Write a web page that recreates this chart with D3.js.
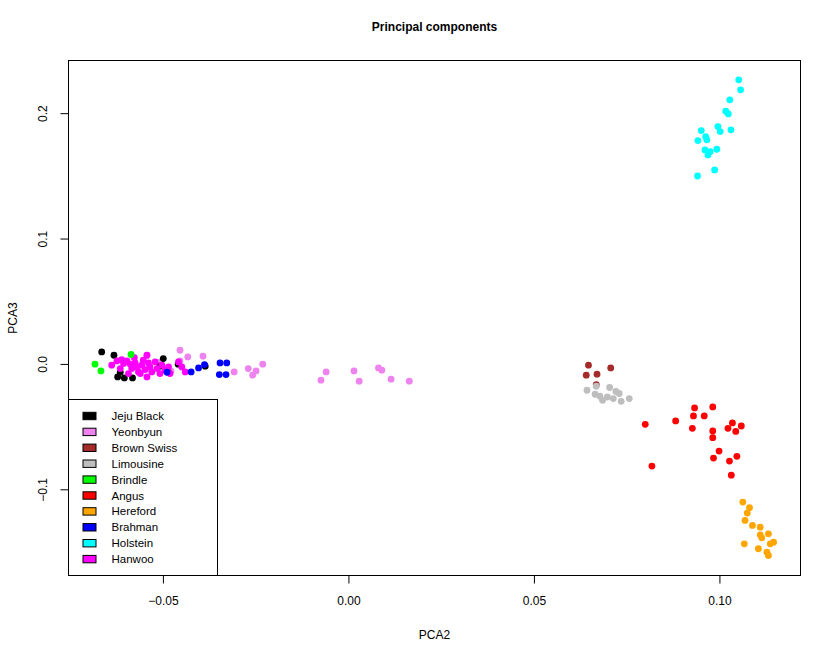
<!DOCTYPE html>
<html>
<head>
<meta charset="utf-8">
<script src="https://cdn.jsdelivr.net/npm/d3@7"></script>
<style>
  body { margin: 0; background: #fff; }
  svg { display: block; font-family: "Liberation Sans", Arial, sans-serif; }
</style>
</head>
<body>
<svg id="chart" width="828" height="653"></svg>
<script>
// ---------- data (PCA2, PCA3) ----------
const breeds = ["Jeju Black","Yeonbyun","Brown Swiss","Limousine","Brindle","Angus","Hereford","Brahman","Holstein","Hanwoo"];
const breedColors = ["#000000","#EE82EE","#A52A2A","#BEBEBE","#00FF00","#FF0000","#FFA500","#0000FF","#00FFFF","#FF00FF"];

const jejuBlack = [[-0.0665,0.0096],[-0.0632,0.0069],[-0.0622,-0.0104],[-0.0604,-0.0112],[-0.0582,-0.0112],
  [-0.0615,-0.0066],[-0.0499,0.0043],[-0.0508,-0.0018],[-0.0386,-0.0018],[-0.0486,-0.0066],[-0.0459,-0.0002]];
const yeonbyun = [[-0.0454,0.0109],[-0.0433,0.0056],[-0.0392,0.0062],[-0.0454,0.0024],[-0.0308,-0.0064],
  [-0.0270,-0.0037],[-0.0249,-0.0056],[-0.0258,-0.0090],[-0.0231,-0.0002],[-0.0508,0.0014],[-0.0543,0.0069],
  [-0.0478,-0.0058],[-0.0060,-0.0064],[-0.0074,-0.0130],[0.0015,-0.0056],[0.0029,-0.0138],[0.0081,-0.0032],
  [0.0090,-0.0050],[0.0115,-0.0122],[0.0164,-0.0138]];
const brownSwiss = [[0.0647,-0.0010],[0.0707,-0.0032],[0.0641,-0.0090],[0.0670,-0.0082],[0.0668,-0.0165]];
const limousine = [[0.0643,-0.0210],[0.0668,-0.0178],[0.0665,-0.0242],[0.0678,-0.0258],[0.0685,-0.0290],
  [0.0698,-0.0264],[0.0704,-0.0188],[0.0721,-0.0220],[0.0714,-0.0276],[0.0730,-0.0236],[0.0735,-0.0298],[0.0757,-0.0276]];
const brindle = [[-0.0683,-0.0002],[-0.0667,-0.0056],[-0.0586,0.0075]];
const angus = [[0.0933,-0.0351],[0.0982,-0.0343],[0.0930,-0.0415],[0.0959,-0.0415],[0.0800,-0.0482],
  [0.0882,-0.0455],[0.0927,-0.0514],[0.1035,-0.0471],[0.1023,-0.0514],[0.1059,-0.0495],[0.1044,-0.0538],
  [0.0982,-0.0535],[0.0982,-0.0588],[0.0999,-0.0695],[0.0984,-0.0751],[0.1047,-0.0737],[0.1027,-0.0775],
  [0.0818,-0.0815],[0.1032,-0.0887]];
const hereford = [[0.1063,-0.1102],[0.1081,-0.1147],[0.1075,-0.1190],[0.1069,-0.1248],[0.1089,-0.1288],
  [0.1110,-0.1302],[0.1110,-0.1363],[0.1132,-0.1355],[0.1114,-0.1387],[0.1146,-0.1422],[0.1137,-0.1435],
  [0.1067,-0.1435],[0.1105,-0.1474],[0.1128,-0.1502],[0.1132,-0.1528]];
const brahman = [[-0.0424,-0.0064],[-0.0404,-0.0032],[-0.0388,-0.0005],[-0.0346,0.0008],[-0.0328,0.0008],
  [-0.0348,-0.0085],[-0.0330,-0.0085],[-0.0489,-0.0066]];
const holstein = [[0.1052,0.2266],[0.1057,0.2186],[0.1028,0.2106],[0.1017,0.2016],[0.1024,0.1994],
  [0.1031,0.1867],[0.0996,0.1893],[0.1002,0.1853],[0.0951,0.1861],[0.0963,0.1813],[0.0942,0.1781],
  [0.0966,0.1787],[0.0961,0.1707],[0.0975,0.1693],[0.0993,0.1712],[0.0969,0.1667],[0.0987,0.1547],[0.0941,0.1499]];
const hanwoo = [[-0.0638,-0.0010],[-0.0624,0.0024],[-0.0611,0.0035],[-0.0606,0.0003],[-0.0597,0.0024],
  [-0.0588,-0.0002],[-0.0584,-0.0037],[-0.0575,0.0008],[-0.0570,-0.0024],[-0.0566,-0.0064],[-0.0557,-0.0010],
  [-0.0561,-0.0077],[-0.0548,-0.0045],[-0.0543,0.0069],[-0.0539,0.0008],[-0.0535,-0.0024],[-0.0530,-0.0064],
  [-0.0521,0.0016],[-0.0516,-0.0037],[-0.0508,-0.0077],[-0.0503,-0.0010],[-0.0494,-0.0050],[-0.0485,-0.0024],
  [-0.0481,-0.0077],[-0.0458,0.0016],[-0.0449,-0.0024],[-0.0440,-0.0064],[-0.0543,-0.0104],[-0.0593,-0.0077],
  [-0.0615,-0.0037],[-0.0553,0.0030],[-0.0577,0.0050]];

const xTicks = [-0.05, 0.00, 0.05, 0.10];
const yTicks = [-0.1, 0.0, 0.1, 0.2];

// drawing order (later on top)
const groups = [
  {name:"Yeonbyun", pts: yeonbyun},
  {name:"Jeju Black", pts: jejuBlack},
  {name:"Brown Swiss", pts: brownSwiss},
  {name:"Limousine", pts: limousine},
  {name:"Angus", pts: angus},
  {name:"Hereford", pts: hereford},
  {name:"Holstein", pts: holstein},
  {name:"Hanwoo", pts: hanwoo},
  {name:"Brahman", pts: brahman},
  {name:"Brindle", pts: brindle}
];

// ---------- layout ----------
const L = 68.5, R = 800.5, T = 60.5, B = 575.5;
const svg = d3.select("#chart");
const color = d3.scaleOrdinal().domain(breeds).range(breedColors);
const x = d3.scaleLinear().domain([-0.07545, 0.12185]).range([L, R]);
const y = d3.scaleLinear().domain([-0.16875, 0.2420]).range([B, T]);

svg.append("rect").attr("width", 828).attr("height", 653).attr("fill", "#fff");

// title
svg.append("text").attr("x", (L + R) / 2).attr("y", 31).attr("text-anchor", "middle")
  .attr("font-size", 12).attr("font-weight", "bold").text("Principal components");

// points
groups.forEach(g => {
  svg.append("g").selectAll("circle").data(g.pts).join("circle")
    .attr("cx", d => x(d[0])).attr("cy", d => y(d[1])).attr("r", 3.4)
    .attr("fill", color(g.name));
});

// x axis
const gx = svg.append("g").attr("transform", `translate(0,${B})`)
  .call(d3.axisBottom(x).tickValues(xTicks).tickFormat(d3.format(".2f")).tickSize(8).tickPadding(13));
gx.select(".domain").remove();
gx.selectAll("line").attr("stroke", "#000");
gx.selectAll("text").attr("font-size", 12).attr("font-family", "Liberation Sans, Arial, sans-serif").attr("fill", "#000");

// y axis
const gy = svg.append("g").attr("transform", `translate(${L},0)`)
  .call(d3.axisLeft(y).tickValues(yTicks).tickFormat(d3.format(".1f")).tickSize(8));
gy.select(".domain").remove();
gy.selectAll("line").attr("stroke", "#000");
gy.selectAll("text").attr("font-size", 12).attr("font-family", "Liberation Sans, Arial, sans-serif").attr("fill", "#000")
  .attr("x", null).attr("dy", null).attr("text-anchor", "middle")
  .attr("transform", "translate(-22,0) rotate(-90)");

// axis titles
svg.append("text").attr("x", (L + R) / 2).attr("y", 639).attr("text-anchor", "middle")
  .attr("font-size", 12).text("PCA2");
svg.append("text").attr("transform", `translate(17,${(T + B) / 2}) rotate(-90)`).attr("text-anchor", "middle")
  .attr("font-size", 12).text("PCA3");

// legend
const leg = svg.append("g");
leg.append("rect").attr("x", L).attr("y", 399.5).attr("width", 149).attr("height", B - 399.5)
  .attr("fill", "#fff").attr("stroke", "#000").attr("stroke-width", 1);
const rows = leg.selectAll("g.item").data(breeds).join("g").attr("class", "item")
  .attr("transform", (d, i) => `translate(0,${416 + i * 15.9})`);
rows.append("rect").attr("x", 83).attr("y", -3.7).attr("width", 13).attr("height", 7.4)
  .attr("fill", d => color(d)).attr("stroke", "#000").attr("stroke-width", 1);
rows.append("text").attr("x", 111.5).attr("y", 0).attr("dy", "0.35em").attr("font-size", 11.5).text(d => d);

// plot frame
svg.append("rect").attr("x", L).attr("y", T).attr("width", R - L).attr("height", B - T)
  .attr("fill", "none").attr("stroke", "#000").attr("stroke-width", 1);
</script>
</body>
</html>
